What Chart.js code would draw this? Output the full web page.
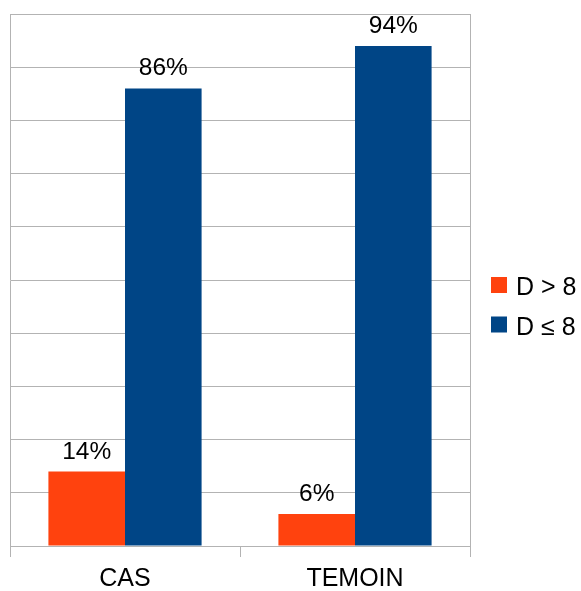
<!DOCTYPE html>
<html><head><meta charset="utf-8">
<script src="https://cdn.jsdelivr.net/npm/chart.js@4"></script>
<style>html,body{margin:0;padding:0;background:#fff}#wrap{width:581px;height:591px}</style>
</head><body><div id="wrap"><canvas id="c" width="581" height="591"></canvas></div>
<script>
const categories = ['CAS', 'TEMOIN'];
const seriesNames = ['D > 8', 'D ≤ 8'];
const seriesGT8 = [14, 6];
const seriesLE8 = [86, 94];
const seriesColors = ['#ff420e', '#004586'];
const yMin = 0, yMax = 100, yStep = 10;

const FONT = '"Liberation Sans", Arial, sans-serif';
const GRID = '#b3b3b3';

const framePlugin = {
  id: 'frame',
  beforeDatasetsDraw(chart) {
    const {ctx, chartArea: a} = chart;
    ctx.save();
    ctx.strokeStyle = GRID; ctx.lineWidth = 1;
    ctx.beginPath();
    ctx.moveTo(Math.round(a.right) + 0.5, a.top);
    ctx.lineTo(Math.round(a.right) + 0.5, a.bottom);
    ctx.stroke();
    ctx.restore();
  }
};

const labelPlugin = {
  id: 'vals',
  afterDatasetsDraw(chart) {
    const {ctx} = chart;
    ctx.save();
    ctx.font = '24.5px ' + FONT;
    ctx.fillStyle = '#000';
    ctx.textAlign = 'center';
    ctx.textBaseline = 'alphabetic';
    chart.data.datasets.forEach((ds, i) => {
      chart.getDatasetMeta(i).data.forEach((bar, j) => {
        ctx.fillText(ds.data[j] + '%', bar.x, bar.y - 13);
      });
    });
    ctx.restore();
  }
};

const legendPlugin = {
  id: 'legendR',
  afterDraw(chart) {
    const {ctx, chartArea: a} = chart;
    ctx.save();
    ctx.font = '25px ' + FONT;
    ctx.textAlign = 'left';
    ctx.textBaseline = 'alphabetic';
    const x0 = a.right + 21;
    const y0 = 277;
    chart.data.datasets.forEach((ds, i) => {
      const y = y0 + i * 39.5;
      ctx.fillStyle = ds.backgroundColor;
      ctx.fillRect(x0, y, 16, 16);
      ctx.fillStyle = '#000';
      ctx.fillText(ds.label, x0 + 25, y + 18);
    });
    ctx.restore();
  }
};

new Chart(document.getElementById('c'), {
  type: 'bar',
  data: {
    labels: categories,
    datasets: [
      {label: seriesNames[0], data: seriesGT8, backgroundColor: seriesColors[0], borderWidth: 0},
      {label: seriesNames[1], data: seriesLE8, backgroundColor: seriesColors[1], borderWidth: 0}
    ]
  },
  options: {
    responsive: false,
    devicePixelRatio: 1,
    animation: false,
    categoryPercentage: 0.666,
    barPercentage: 1.0,
    layout: {padding: {left: 0, top: 14, right: 111, bottom: 0}},
    plugins: {legend: {display: false}, tooltip: {enabled: false}},
    scales: {
      x: {
        grid: {display: true, offset: true, drawOnChartArea: false, drawTicks: true, tickLength: 11, color: GRID},
        border: {display: true, color: GRID},
        ticks: {font: {family: FONT, size: 25}, color: '#000', padding: 7},
        afterFit(s) { s.height = 45; }
      },
      y: {
        min: yMin, max: yMax,
        ticks: {display: false, stepSize: yStep},
        grid: {color: GRID, drawTicks: false, tickLength: 0},
        border: {display: true, color: GRID},
        afterFit(s) { s.width = 10; }
      }
    }
  },
  plugins: [framePlugin, labelPlugin, legendPlugin]
});
</script></body></html>
